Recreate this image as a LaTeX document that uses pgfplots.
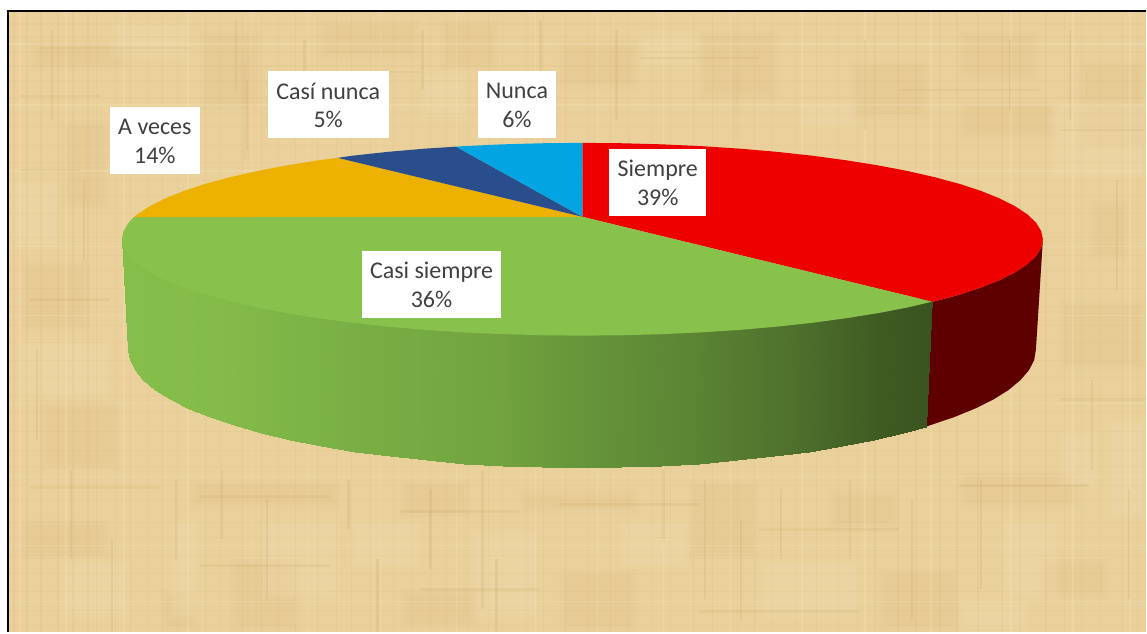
\documentclass[border=0pt]{standalone}
\usepackage{pgfplots}
\pgfplotsset{compat=1.18}
\usepackage{fontspec}
\setmainfont{Carlito}
\definecolor{paper}{HTML}{EAD19B}
\definecolor{pdark}{HTML}{CFAF68}
\definecolor{pstreak}{HTML}{B99C55}
\definecolor{plight}{HTML}{F7E7C0}
\definecolor{cRed}{HTML}{EE0000}
\definecolor{cRedS}{HTML}{5F0000}
\definecolor{cGreen}{HTML}{88C14C}
\definecolor{cGold}{HTML}{EDB100}
\definecolor{cBlue}{HTML}{2A4E8C}
\definecolor{cSky}{HTML}{02A5E2}
\definecolor{cText}{HTML}{404040}
\newcommand{\lbl}[5]{% cx, cy, w, first, second
 \node[fill=white,inner sep=0pt,minimum width=#3*0.5pt,minimum height=33.5pt] at (axis cs:#1,#2) {};
 \node[inner sep=0pt,align=center,text=cText,font=\fontsize{12}{14.5}\selectfont] at (axis cs:#1,#2+1) {#4\\#5};}
\begin{document}
\begin{tikzpicture}
\begin{scope}[x=0.5pt,y=-0.5pt,shift={(0pt,316.5pt)}]
 \fill[white] (0,0) rectangle (1147,633);
 \fill[paper] (8,11) rectangle (1147,633);
 % papyrus texture: decorative patches with soft edges
 \foreach \a/\b/\c/\d in {
  30/40/130/70, 60/120/110/210, 200/30/260/110, 320/20/420/60, 440/20/500/70,
  560/40/640/90, 700/30/780/100, 850/60/930/120, 960/30/1040/80, 1080/60/1147/150,
  20/260/90/330, 40/400/120/470, 20/520/110/560, 190/480/340/510, 230/560/300/633,
  160/590/200/633, 400/480/470/520, 520/490/640/515, 690/480/760/560, 830/490/900/530,
  960/470/1080/510, 1040/560/1110/600, 560/570/640/633, 400/590/480/630, 880/570/960/633,
  1060/300/1147/370, 1090/200/1130/260, 240/60/250/160, 730/70/742/140, 960/100/1060/140}
  {\foreach \i in {0,3,6}{\fill[pdark,opacity=0.04] ({\a+\i},{\b+\i}) rectangle ({\c-\i},{\d-\i});}}
 \foreach \a/\b/\c/\d in {
  110/20/190/60, 20/340/110/400, 60/560/130/620, 260/520/340/600, 170/520/200/620,
  350/520/420/570, 470/530/540/620, 620/520/690/570, 760/560/860/620, 1000/520/1060/600,
  1110/420/1147/520, 1060/430/1100/490, 640/30/700/70, 800/100/860/130, 420/70/470/120,
  1050/100/1147/180, 960/600/1030/633, 10/180/60/250}
  {\foreach \i in {0,3,6}{\fill[plight,opacity=0.08] ({\a+\i},{\b+\i}) rectangle ({\c-\i},{\d-\i});}}
 \foreach \x in {14,27,41,58,73,88,97,116,131,149,163,178,206,221,243,262,279,296,318,337,352,371,394,412,431,447,468,489,503,527,544,566,588,611,629,652,671,694,713,738,755,772,796,817,839,858,876,899,917,941,958,979,1003,1021,1047,1066,1083,1102,1124,1139}
  {\draw[pdark,opacity=0.13,line width=0.6pt] (\x,12)--(\x,633);}
 \foreach \y in {24,37,52,66,81,98,114,127,146,163,181,197,214,238,256,271,289,307,326,343,361,378,396,413,432,451,467,486,501,523,538,556,574,592,611,626}
  {\draw[pdark,opacity=0.11,line width=0.6pt] (8,\y)--(1147,\y);}
 \foreach \x in {20,66,124,188,252,309,381,457,536,598,664,731,803,866,932,1012,1074,1131}
  {\draw[plight,opacity=0.25,line width=0.7pt] (\x,12)--(\x,633);}
 \foreach \y in {44,105,171,247,316,404,477,546,602}
  {\draw[plight,opacity=0.25,line width=0.7pt] (8,\y)--(1147,\y);}
 % short darker fibres
 \foreach \x/\a/\b in {
  52/30/120, 84/180/260, 37/350/440, 71/470/560, 112/540/633, 236/20/90, 247/80/150, 305/40/110,
  176/480/560, 222/470/540, 267/500/600, 349/480/530, 378/560/633, 431/490/570, 483/470/610, 497/560/633,
  541/20/80, 617/30/120, 664/470/540, 706/480/600, 742/520/620, 782/490/560, 851/480/560, 866/40/130,
  913/500/620, 982/480/590, 1011/40/110, 1071/30/120, 1093/380/470, 1118/180/290, 1130/490/600, 423/30/90}
  {\draw[pstreak,opacity=0.16,line width=1.2pt] (\x,\a)--(\x,\b);}
 \foreach \y/\a/\b in {
  48/40/190, 96/20/100, 170/20/80, 300/30/110, 488/30/160, 497/200/330, 512/400/520, 505/560/700, 530/760/900,
  486/960/1090, 566/200/330, 590/420/540, 612/700/860, 72/280/420, 58/640/760, 90/900/1040, 130/1060/1147, 400/1060/1147}
  {\draw[pstreak,opacity=0.13,line width=1.2pt] (\a,\y)--(\b,\y);}
 \fill[black] (7,10) rectangle (1147,12.5);
 \fill[black] (7,10) rectangle (9.2,633);
\end{scope}
\begin{axis}[at={(0pt,0pt)},anchor=south west,scale only axis,
  width=573.5pt,height=316.5pt,xmin=0,xmax=1147,ymin=0,ymax=633,y dir=reverse,
  hide axis,clip=true,
  colormap={sidegreen}{rgb255(122)=(134,190,75) rgb255(220)=(132,187,73) rgb255(340)=(122,176,69) rgb255(500)=(113,163,63) rgb255(600)=(100,146,57) rgb255(700)=(91,131,51) rgb255(800)=(77,111,44) rgb255(880)=(63,91,34) rgb255(933)=(58,83,32)},
  point meta min=122,point meta max=933]
% red side
\addplot[draw=none,fill=cRedS,mark=none] coordinates {
 (920,306)(933,302)(936.1,301.5)(960.6,294.9)(982.2,287.75)(1000.8,280.3)(1016.2,272.5)(1028.3,264.5)(1037,256.3)(1042.2,247.9)(1044,239.5)
 (1037,350)(1035.3,360.3)(1030.1,370.5)(1021.5,380.5)(1009.6,390.4)(994.4,399.9)(976.1,409)(954.8,417.7)(930.7,425.8)(927,427)(920,424)};
% green side, shaded by x; its upper edge runs under the top faces
\addplot[patch,patch type=rectangle,shader=interp,point meta=x] table {
122 239.5
123.8 242.9
129.7 360.3
128 350
123.8 242.9
129 251.3
134.9 370.5
129.7 360.3
129 251.3
137.7 259.5
143.5 380.5
134.9 370.5
137.7 259.5
149.8 267.5
155.4 390.4
143.5 380.5
149.8 267.5
165.2 275.3
170.6 399.9
155.4 390.4
165.2 275.3
183.8 282.75
188.9 409
170.6 399.9
183.8 282.75
205.4 289.9
210.2 417.7
188.9 409
205.4 289.9
229.9 296.5
234.3 425.8
210.2 417.7
229.9 296.5
257 302.7
261.1 433.4
234.3 425.8
257 302.7
286.7 308.4
290.4 440.4
261.1 433.4
286.7 308.4
318.6 313.5
321.8 446.7
290.4 440.4
318.6 313.5
352.5 318.1
355.2 452.2
321.8 446.7
352.5 318.1
388.2 322
390.4 456.9
355.2 452.2
388.2 322
425.3 325.2
427.1 460.9
390.4 456.9
425.3 325.2
463.7 327.7
464.9 464
427.1 460.9
463.7 327.7
502.9 329.5
503.6 466.2
464.9 464
502.9 329.5
542.8 330.6
542.9 467.6
503.6 466.2
542.8 330.6
583 331
582.5 468
542.9 467.6
583 331
623.2 330.6
622.1 467.6
582.5 468
623.2 330.6
663.1 329.5
661.4 466.2
622.1 467.6
663.1 329.5
702.3 327.7
700.1 464
661.4 466.2
702.3 327.7
740.7 325.2
737.9 460.9
700.1 464
740.7 325.2
777.8 322
774.6 456.9
737.9 460.9
777.8 322
813.5 318.1
809.8 452.2
774.6 456.9
813.5 318.1
847.4 313.5
843.2 446.7
809.8 452.2
847.4 313.5
879.3 308.4
874.6 440.4
843.2 446.7
879.3 308.4
909 302.7
903.9 433.4
874.6 440.4
909 302.7
933 297
927 427
903.9 433.4
};
% red top, 39%
\addplot[draw=none,fill=cRed,mark=none] coordinates {
 (583,217)(583,143)(623.2,143.4)(663.1,144.5)(702.3,146.3)(740.7,148.8)(777.8,152)(813.5,155.9)(847.4,160.5)(879.3,165.6)(909,171.3)(936.1,177.5)(960.6,184.1)(982.2,191.2)(1000.8,198.7)(1016.2,206.5)(1028.3,214.5)(1037,222.7)(1042.2,231.1)(1044,239.5)(1042.2,247.9)(1037,256.3)(1028.3,264.5)(1016.2,272.5)(1000.8,280.3)(982.2,287.75)(960.6,294.9)(936.1,301.5)(933,302)};
% green top, 36%
\addplot[draw=none,fill=cGreen,mark=none] coordinates {
 (583,217)(933,302)(909,307.7)(879.3,313.4)(847.4,318.5)(813.5,323.1)(777.8,327)(740.7,330.2)(702.3,332.7)(663.1,334.5)(623.2,335.6)(583,336)(542.8,335.6)(502.9,334.5)(463.7,332.7)(425.3,330.2)(388.2,327)(352.5,323.1)(318.6,318.5)(286.7,313.4)(257,307.7)(229.9,301.5)(205.4,294.9)(183.8,287.75)(165.2,280.3)(149.8,272.5)(137.7,264.5)(129,256.3)(123.8,247.9)(122,239.5)(123.8,231.1)(129,222.7)(134,217.3)};
% gold top, 14%
\addplot[draw=none,fill=cGold,mark=none] coordinates {
 (583,217)(134,217.3)(137.7,214.5)(149.8,206.5)(165.2,198.7)(183.8,191.2)(205.4,184.1)(229.9,177.5)(257,171.3)(286.7,165.6)(318.6,160.5)(338,158)};
% blue top, 5%
\addplot[draw=none,fill=cBlue,mark=none] coordinates {
 (583,217)(338,158)(352.5,155.9)(388.2,152)(425.3,148.8)(456.5,146.8)};
% sky top, 6%
\addplot[draw=none,fill=cSky,mark=none] coordinates {
 (583,217)(456.5,146.8)(463.7,146.3)(502.9,144.5)(542.8,143.4)(583,143)};
\lbl{155}{140.5}{90}{A veces}{14\%}
\lbl{328.5}{104.5}{121}{Casí nunca}{5\%}
\lbl{517.5}{104.5}{79}{Nunca}{6\%}
\lbl{658.5}{182.5}{97}{Siempre}{39\%}
\lbl{432}{284.5}{140}{Casi siempre}{36\%}
\end{axis}
\end{tikzpicture}
\end{document}
